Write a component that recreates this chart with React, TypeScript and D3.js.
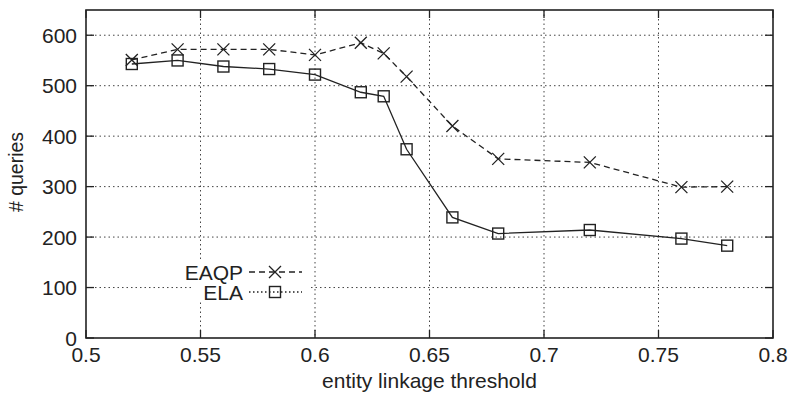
import React from "react";
import * as d3 from "d3";

const thresholds = [0.52, 0.54, 0.56, 0.58, 0.6, 0.62, 0.63, 0.64, 0.66, 0.68, 0.72, 0.76, 0.78];
const eaqp = [551, 572, 572, 572, 561, 585, 564, 518, 420, 355, 348, 299, 300];
const ela = [543, 550, 538, 533, 522, 487, 479, 374, 239, 207, 214, 197, 183];
const xTicks = [0.5, 0.55, 0.6, 0.65, 0.7, 0.75, 0.8];
const yTicks = [0, 100, 200, 300, 400, 500, 600];

const W = 788, H = 396;
const M = { left: 86, top: 10, right: 773, bottom: 338 };
const FONT = "'Liberation Sans', Arial, Helvetica, sans-serif";

export default function App() {
  const x = d3.scaleLinear().domain([0.5, 0.8]).range([M.left, M.right]);
  const y = d3.scaleLinear().domain([0, 650]).range([M.bottom, M.top]);
  const line = d3.line<number>().x((_, i) => x(thresholds[i])).y((d) => y(d));
  const tl = 8;
  const stroke = "#222";
  const cross = (cx: number, cy: number, k: string) => (
    <path key={k} d={`M${cx - 6},${cy - 6}L${cx + 6},${cy + 6}M${cx - 6},${cy + 6}L${cx + 6},${cy - 6}`} stroke={stroke} strokeWidth={1.3} fill="none" />
  );
  const square = (cx: number, cy: number, k: string) => (
    <rect key={k} x={cx - 5.5} y={cy - 5.5} width={11} height={11} stroke={stroke} strokeWidth={1.4} fill="none" />
  );
  const legY1 = 272, legY2 = 292;
  return (
    <svg width={W} height={H} style={{ position: "absolute", left: 0, top: 0, background: "#fff" }}>
      <rect x={0} y={0} width={W} height={H} fill="#fff" />
      {/* grid */}
      <g stroke="#444" strokeWidth={1} strokeDasharray="1.5,3">
        {yTicks.slice(1).map((t) => (
          <line key={"gy" + t} x1={M.left} x2={M.right} y1={y(t)} y2={y(t)} />
        ))}
        {xTicks.slice(1, -1).map((t) => (
          <line key={"gx" + t} x1={x(t)} x2={x(t)} y1={M.top} y2={M.bottom} />
        ))}
      </g>
      {/* legend background */}
      <rect x={192} y={262} width={118} height={38} fill="#fff" />
      {/* ticks */}
      <g stroke={stroke} strokeWidth={1.3}>
        {yTicks.map((t) => (
          <g key={"ty" + t}>
            <line x1={M.left} x2={M.left + tl} y1={y(t)} y2={y(t)} />
            <line x1={M.right} x2={M.right - tl} y1={y(t)} y2={y(t)} />
          </g>
        ))}
        {xTicks.map((t) => (
          <g key={"tx" + t}>
            <line x1={x(t)} x2={x(t)} y1={M.bottom} y2={M.bottom - tl} />
            <line x1={x(t)} x2={x(t)} y1={M.top} y2={M.top + tl} />
          </g>
        ))}
      </g>
      <g fontFamily={FONT} fontSize={21} fill="#222">
        {yTicks.map((t) => (
          <text key={"ly" + t} x={M.left - 9} y={y(t)} dy="0.36em" textAnchor="end">{t}</text>
        ))}
        {xTicks.map((t) => (
          <text key={"lx" + t} x={x(t)} y={362} textAnchor="middle">{String(t)}</text>
        ))}
        <text x={(M.left + M.right) / 2} y={388} textAnchor="middle">entity linkage threshold</text>
        <text transform={`translate(23,172) rotate(-90)`} textAnchor="middle" fontSize={19.5}># queries</text>
      </g>
      {/* series */}
      <path d={line(eaqp) || ""} fill="none" stroke={stroke} strokeWidth={1.3} strokeDasharray="6,4" />
      <path d={line(ela) || ""} fill="none" stroke={stroke} strokeWidth={1.3} />
      {eaqp.map((v, i) => cross(x(thresholds[i]), y(v), "c" + i))}
      {ela.map((v, i) => square(x(thresholds[i]), y(v), "s" + i))}
      {/* legend */}
      <g fontFamily={FONT} fontSize={21} fill="#222">
        <text x={243} y={legY1} dy="0.36em" textAnchor="end">EAQP</text>
        <text x={243} y={legY2} dy="0.36em" textAnchor="end">ELA</text>
      </g>
      <line x1={249} x2={302} y1={legY1} y2={legY1} stroke={stroke} strokeWidth={1.3} strokeDasharray="6,4" />
      {cross(275, legY1, "lc")}
      <line x1={249} x2={302} y1={legY2} y2={legY2} stroke={stroke} strokeWidth={1.3} strokeDasharray="1.5,2.5" />
      {square(275, legY2, "ls")}
      {/* frame */}
      <rect x={M.left} y={M.top} width={M.right - M.left} height={M.bottom - M.top} fill="none" stroke={stroke} strokeWidth={1.6} />
    </svg>
  );
}
